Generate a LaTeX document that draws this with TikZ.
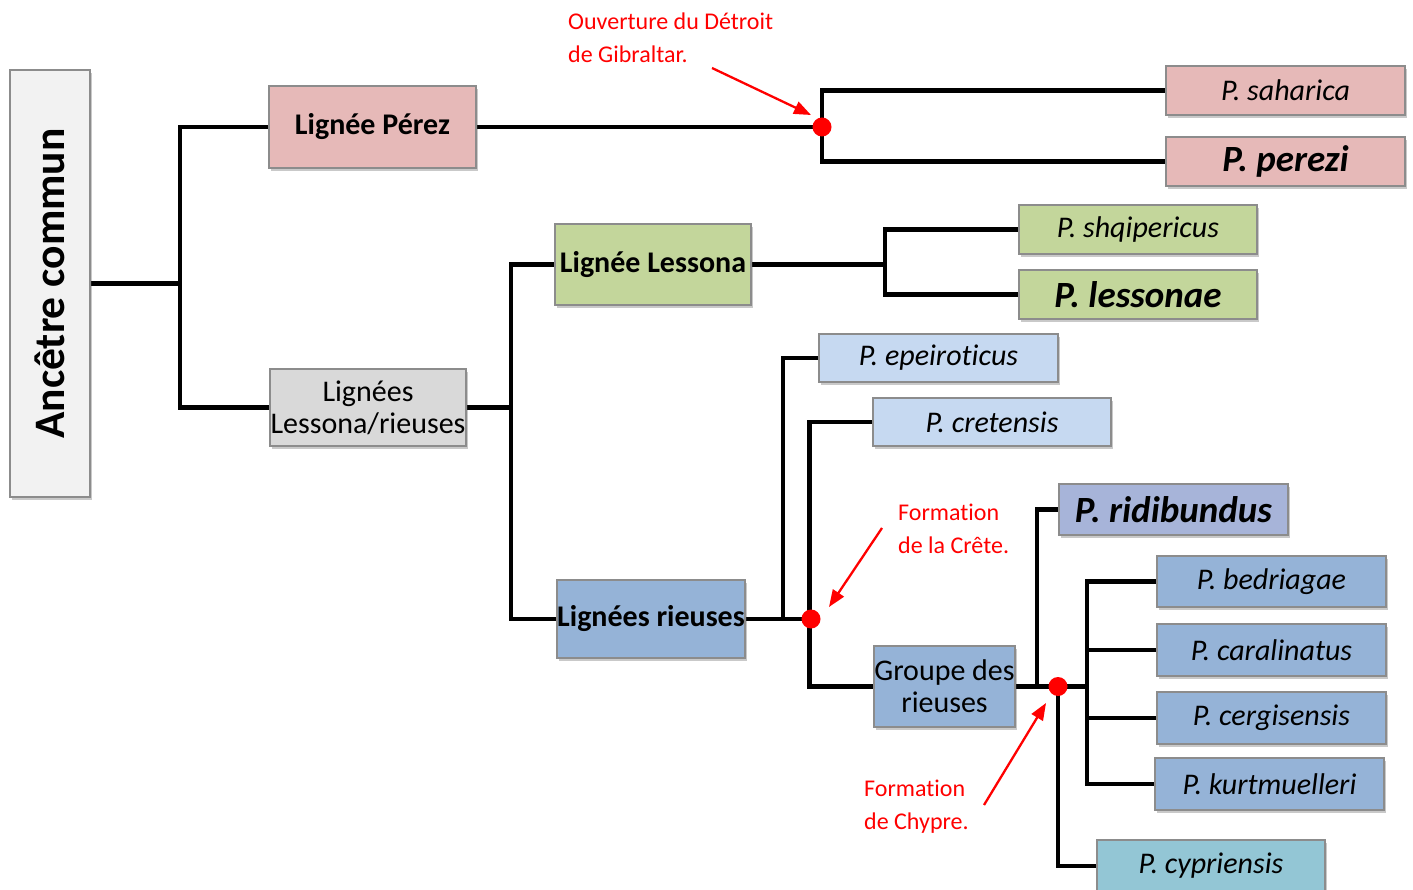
\documentclass[tikz,border=0pt]{standalone}
\usepackage{fontspec}
\setmainfont[Ligatures=NoCommon]{Carlito}
\usetikzlibrary{shadows,arrows.meta,backgrounds}
\definecolor{cpink}{HTML}{E6B9B8}
\definecolor{cgreen}{HTML}{C3D69B}
\definecolor{cgray}{HTML}{D9D9D9}
\definecolor{canc}{HTML}{F2F2F2}
\definecolor{clblue}{HTML}{C6D9F1}
\definecolor{cmblue}{HTML}{95B3D7}
\definecolor{cpurp}{HTML}{A7B4D9}
\definecolor{caqua}{HTML}{93C6D5}
\definecolor{cborder}{HTML}{8C8C8C}
\tikzset{
  box/.style={draw=cborder, line width=1.3pt, inner sep=0pt, align=center,
    font=\fontsize{30}{32}\selectfont,
    drop shadow={shadow xshift=2pt, shadow yshift=-3pt, opacity=0.3, fill=black!70}},
  boldbox/.style={font=\fontsize{30}{32}\selectfont\bfseries},
  big/.style={font=\fontsize{37}{40}\selectfont\bfseries\itshape},
  tree/.style={line width=4.6pt, line join=miter, black},
  dot/.style={circle, fill=red, inner sep=0pt, minimum size=19pt},
  redarrow/.style={red, line width=2.3pt, -{Triangle[length=17pt,width=13pt]}},
  redtxt/.style={text=red, font=\fontsize{24}{33}\selectfont, align=left, anchor=north west, inner sep=0pt}
}
\begin{document}
\begin{tikzpicture}[x=1pt,y=-1pt]
\useasboundingbox (0,0) rectangle (1413,890);
% boxes
\node[box, fill=canc, minimum width=80pt, minimum height=427pt] (anc) at (50,283.5)
  {\rotatebox{90}{\fontsize{43.5}{46}\selectfont\bfseries Ancêtre commun}};
\node[box, fill=cpink, minimum width=207pt, minimum height=82pt, boldbox] (perez) at (372.5,127) {Lignée Pérez};
\node[box, fill=cgray, minimum width=196pt, minimum height=77pt] (lr) at (368,407.5) {Lignées\\Lessona/rieuses};
\node[box, fill=cgreen, minimum width=196pt, minimum height=81pt, boldbox] (lles) at (653,264.5) {Lignée Lessona};
\node[box, fill=cmblue, minimum width=188pt, minimum height=78pt, boldbox] (lrieu) at (651,619) {Lignées rieuses};
\node[box, fill=cpink, minimum width=239pt, minimum height=49pt] (sah) at (1285.5,90.5) {\itshape P. saharica};
\node[box, fill=cpink, minimum width=239pt, minimum height=49pt, big] (pz) at (1285.5,161.5) {P. perezi};
\node[box, fill=cgreen, minimum width=238pt, minimum height=49pt] (shq) at (1138,229.5) {\itshape P. shqipericus};
\node[box, fill=cgreen, minimum width=238pt, minimum height=49pt, big] (less) at (1138,294.5) {P. lessonae};
\node[box, fill=clblue, minimum width=239pt, minimum height=48pt] (epe) at (938.5,358) {\itshape P. epeiroticus};
\node[box, fill=clblue, minimum width=238pt, minimum height=48pt] (cre) at (992,422) {\itshape P. cretensis};
\node[box, fill=cpurp, minimum width=229pt, minimum height=51pt, big] (rid) at (1173.5,509.5) {P. ridibundus};
\node[box, fill=cmblue, minimum width=141pt, minimum height=81pt] (grp) at (944.5,686.5) {Groupe des\\rieuses};
\node[box, fill=cmblue, minimum width=229pt, minimum height=51pt] (bed) at (1271.5,581.5) {\itshape P. bedriagae};
\node[box, fill=cmblue, minimum width=229pt, minimum height=52pt] (car) at (1271.5,650) {\itshape P. caralinatus};
\node[box, fill=cmblue, minimum width=229pt, minimum height=52pt] (cer) at (1271.5,718) {\itshape P. cergisensis};
\node[box, fill=cmblue, minimum width=229pt, minimum height=52pt] (kurt) at (1269.5,784) {\itshape P. kurtmuelleri};
\node[box, fill=caqua, minimum width=228pt, minimum height=52pt] (cyp) at (1211,866) {\itshape P. cypriensis};
% junctions
\coordinate (j0) at (180,283.5);
\coordinate (j2) at (511,407.5);
\coordinate (j3) at (885,264.5);
\coordinate (j4) at (783,619);
\coordinate (j5) at (1037,686.5);
\coordinate (j6) at (1087,686.5);
\node[dot] (gib) at (822,127) {};
\node[dot] (crete) at (811,619) {};
\node[dot] (chy) at (1058,686.5) {};
\begin{pgfonlayer}{background}
\draw[tree] (anc.east) -- (j0);
\draw[tree] (perez.west) -| (j0) |- (lr.west);
\draw[tree] (perez.east) -- (gib.center);
\draw[tree] (sah.west) -| (gib.center) |- (pz.west);
\draw[tree] (lr.east) -- (j2);
\draw[tree] (lles.west) -| (j2) |- (lrieu.west);
\draw[tree] (lles.east) -- (j3);
\draw[tree] (shq.west) -| (j3) |- (less.west);
\draw[tree] (lrieu.east) -- (crete.center);
\draw[tree] (epe.west) -| (j4);
\draw[tree] (cre.west) -| ([xshift=-1.5pt]crete.center) |- (grp.west);
\draw[tree] (grp.east) -- (j6);
\draw[tree] (rid.west) -| (j5);
\draw[tree] (bed.west) -| (j6) |- (kurt.west);
\draw[tree] (car.west) -- (car.west -| j6);
\draw[tree] (cer.west) -- (cer.west -| j6);
\draw[tree] (chy.center) |- (cyp.west);
\end{pgfonlayer}
% annotations
\node[redtxt] (tgib) at (568,12.5) {Ouverture du Détroit\\de Gibraltar.};
\node[redtxt] (tcre) at (898,503.5) {Formation\\de la Crête.};
\node[redtxt] (tchy) at (864,779.5) {Formation\\de Chypre.};
\coordinate (a1s) at (712,68);
\coordinate (a1e) at (811,115);
\coordinate (a2s) at (882,528);
\coordinate (a2e) at (829,607);
\coordinate (a3s) at (984,805);
\coordinate (a3e) at (1046,703);
\draw[redarrow] (a1s) -- (a1e);
\draw[redarrow] (a2s) -- (a2e);
\draw[redarrow] (a3s) -- (a3e);
\end{tikzpicture}
\end{document}
